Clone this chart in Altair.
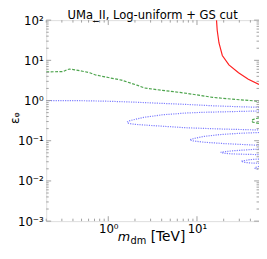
import altair as alt
import pandas as pd

# ---- data ----
red_m = [16.6, 16.9, 17.7, 19.3, 22.9, 29.4, 37.9, 50.0]
red_e = [100.0, 56.0, 27.0, 13.2, 7.7, 4.9, 3.4, 2.5]

green_m = [0.2, 0.25, 0.31, 0.34, 0.366, 0.42, 0.513, 0.62, 0.72, 1.0, 1.41, 2.15, 2.55, 4.0, 6.43, 10.0, 15.0, 25.0, 50.0]
green_e = [5.17, 5.2, 5.25, 5.8, 6.07, 5.8, 5.36, 4.9, 4.32, 3.73, 3.22, 2.38, 2.05, 1.8, 1.59, 1.38, 1.2, 1.08, 0.96]

green2_m = [50.0, 46.0, 42.5, 41.3, 42.5, 46.0, 50.0]
green2_e = [0.37, 0.355, 0.335, 0.31, 0.29, 0.28, 0.27]

blue_m = [0.2, 0.5, 1.0, 2.0, 4.0, 7.6, 15.0, 30.0, 50.0]
blue_e = [1.0, 0.99, 0.96, 0.91, 0.85, 0.80, 0.74, 0.70, 0.68]

loop1_m = [50, 25, 12, 7.6, 4.0, 2.5, 1.9, 1.7, 1.63, 1.7, 2.0, 3.0, 7.6, 20, 50]
loop1_e = [0.55, 0.53, 0.51, 0.49, 0.44, 0.38, 0.33, 0.31, 0.29, 0.27, 0.255, 0.24, 0.21, 0.195, 0.185]

loop2_m = [50, 30, 18, 12, 9.5, 8.3, 9.0, 12, 20, 35, 50]
loop2_e = [0.16, 0.153, 0.142, 0.128, 0.115, 0.106, 0.099, 0.092, 0.085, 0.080, 0.077]

loop3_m = [50, 35, 25, 20, 18.5, 20, 25, 35, 50]
loop3_e = [0.062, 0.059, 0.056, 0.053, 0.0515, 0.049, 0.047, 0.046, 0.045]

loop4_m = [50, 40, 34, 31.5, 34, 40, 50]
loop4_e = [0.035, 0.034, 0.032, 0.031, 0.029, 0.028, 0.0274]

loop5_m = [50, 46, 44.6, 46, 50]
loop5_e = [0.023, 0.0218, 0.021, 0.020, 0.0195]

x_major = [1, 10]
x_minor = [0.2, 0.3, 0.4, 0.5, 0.6, 0.7, 0.8, 0.9, 2, 3, 4, 5, 6, 7, 8, 9, 20, 30, 40]
y_major = [0.001, 0.01, 0.1, 1, 10, 100]
y_minor = [k * 10.0 ** e for e in range(-3, 2) for k in range(2, 10)]

TITLE = "UMa_II, Log-uniform + GS cut"
XT = ["m", "dm", "[TeV]"]
YT = "εᵩ"

W, H = 217, 205
FONT = "DejaVu Sans"
FRAME = "#a0a0a0"

xs = alt.Scale(type="log", domain=[0.2, 50], nice=False)
ys = alt.Scale(type="log", domain=[0.001, 100], nice=False)


def curve(ms, es, name):
    return pd.DataFrame({"m": ms, "e": es, "i": range(len(ms)), "c": name})


lab = ("'10' + (round(log(datum.value)/LN10)==2 ? '²' : round(log(datum.value)/LN10)==1 ? '¹' : "
       "round(log(datum.value)/LN10)==0 ? '⁰' : round(log(datum.value)/LN10)==-1 ? '⁻¹' : "
       "round(log(datum.value)/LN10)==-2 ? '⁻²' : '⁻³')")

xaxis = alt.Axis(values=x_major, labelExpr=lab, tickSize=0, domain=False, grid=False,
                 labelFont=FONT, labelFontSize=12, labelColor="black", labelPadding=3,
                 labelFlush=False, title=None)
yaxis = alt.Axis(values=y_major, labelExpr=lab, tickSize=0, domain=False, grid=False,
                 labelFont=FONT, labelFontSize=12, labelColor="black", labelPadding=3,
                 title=None)

X = alt.X("m:Q", scale=xs, axis=xaxis)
Y = alt.Y("e:Q", scale=ys, axis=yaxis)


def line(df, color, dash, width=1.2, opacity=1.0):
    kw = {}
    if dash:
        kw["strokeDash"] = dash
    return alt.Chart(df).mark_line(color=color, strokeWidth=width, clip=True, opacity=opacity, **kw).encode(
        x=X, y=Y, order="i:Q")


BLUE = "#6f6fff"
GREEN = "#3a9a3a"
layers = [
    line(curve(blue_m, blue_e, "b"), BLUE, [1.2, 1.2], opacity=0.9),
    line(curve(loop1_m, loop1_e, "b1"), BLUE, [1.2, 1.2], opacity=0.9),
    line(curve(loop2_m, loop2_e, "b2"), BLUE, [1.2, 1.2], opacity=0.9),
    line(curve(loop3_m, loop3_e, "b3"), BLUE, [1.2, 1.2], opacity=0.9),
    line(curve(loop4_m, loop4_e, "b4"), BLUE, [1.2, 1.2], opacity=0.9),
    line(curve(loop5_m, loop5_e, "b5"), BLUE, [1.2, 1.2], opacity=0.9),
    line(curve(green_m, green_e, "g"), GREEN, [3, 1.5], opacity=0.9),
    line(curve(green2_m, green2_e, "g2"), GREEN, [3, 1.5], opacity=0.9),
    line(curve(red_m, red_e, "r"), "#ff2020", None),
]


def xticks(vals, length):
    d = pd.DataFrame({"m": vals})
    bot = alt.Chart(d).mark_rule(color=FRAME, strokeWidth=1).encode(
        x=X, y=alt.value(H), y2=alt.value(H - length))
    top = alt.Chart(d).mark_rule(color=FRAME, strokeWidth=1).encode(
        x=X, y=alt.value(0), y2=alt.value(length))
    return [bot, top]


def yticks(vals, length):
    d = pd.DataFrame({"e": vals})
    lft = alt.Chart(d).mark_rule(color=FRAME, strokeWidth=1).encode(
        y=Y, x=alt.value(0), x2=alt.value(length))
    rgt = alt.Chart(d).mark_rule(color=FRAME, strokeWidth=1).encode(
        y=Y, x=alt.value(W), x2=alt.value(W - length))
    return [lft, rgt]


ticks = xticks(x_major, 5) + xticks(x_minor, 2.5) + yticks(y_major, 5) + yticks(y_minor, 2.5)


def txt(s, size, x, y, style="normal", align="left", baseline="alphabetic", angle=0):
    return alt.Chart(pd.DataFrame({"t": [s]})).mark_text(
        font=FONT, fontSize=size, fontStyle=style, align=align, baseline=baseline,
        angle=angle, color="black").encode(text="t:N", x=alt.value(x), y=alt.value(y))


texts = [
    txt(TITLE, 11.8, W / 2, -1.5, align="center"),
    txt(XT[0], 13, 73, H + 20, "italic"),
    txt(XT[1], 10, 86, H + 23),
    txt(XT[2], 14, 106.5, H + 20),
    txt(YT, 12.5, -28, 100, align="center", baseline="alphabetic", angle=270),
]

chart = alt.layer(*layers, *ticks, *texts).properties(
    width=W, height=H,
    autosize=alt.AutoSizeParams(type="none"),
    padding={"left": 39, "top": 10, "right": 0, "bottom": 23},
).configure_view(stroke=FRAME, strokeWidth=1).configure(background="white")

chart.save("out.html", embed_options={"renderer": "svg", "actions": False})
